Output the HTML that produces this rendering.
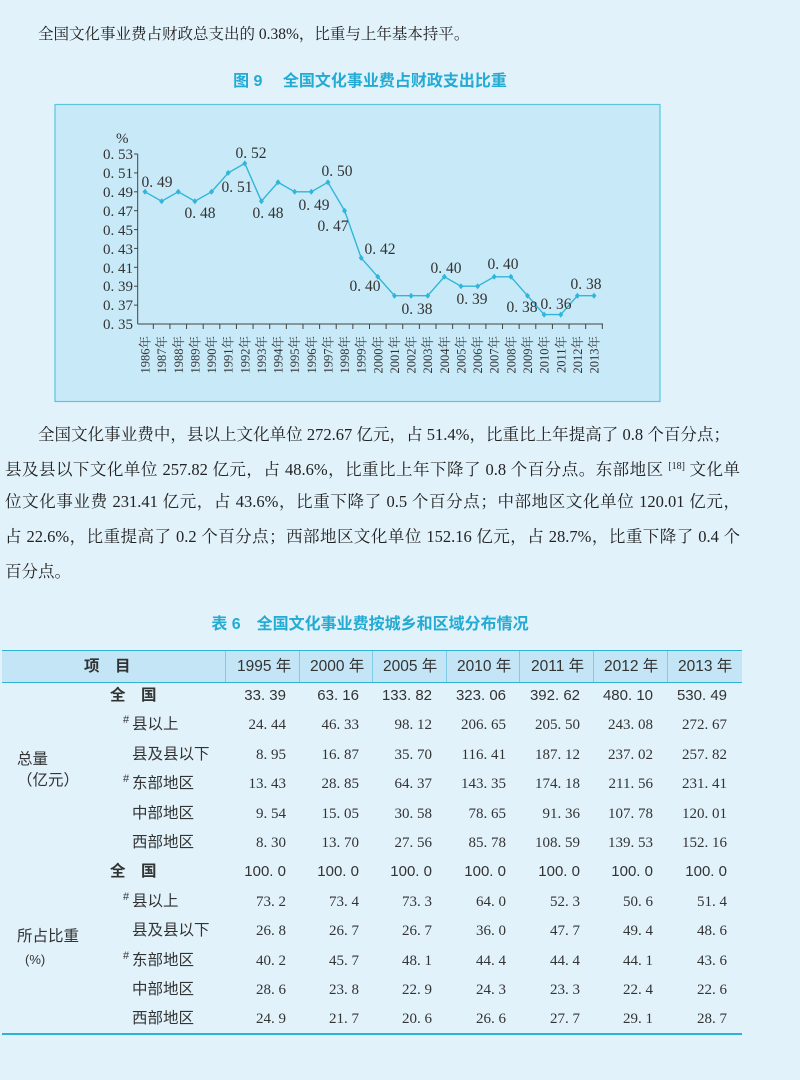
<!DOCTYPE html>
<html><head><meta charset="utf-8">
<style>
html,body{margin:0;padding:0}
body{width:800px;height:1080px;background:#e1f2fb;position:relative;overflow:hidden;font-family:"Liberation Serif","Noto Serif CJK SC",serif;color:#222}
.a{position:absolute;white-space:nowrap}
.p{position:absolute;left:5px;width:735px;font-size:16.5px;text-align:justify;text-align-last:justify;line-height:20px;height:20px;white-space:nowrap}
.p sup{font-size:10px;line-height:0;vertical-align:6px}
.ttl{position:absolute;left:0;width:740px;text-align:center;color:#23abd3;font-weight:bold;font-size:16px;font-family:"Liberation Sans","Noto Sans CJK SC",sans-serif}
.tl{position:absolute;font-family:"Liberation Sans","Noto Sans CJK SC",sans-serif;font-size:15.5px;line-height:20px;height:20px;color:#333;white-space:nowrap}
.n{position:absolute;font-size:15px;line-height:20px;height:20px;text-align:right;width:70px;color:#333}
</style></head><body>
<div class="a" style="left:38px;top:22px;font-size:15.5px">全国文化事业费占财政总支出的 0.38%，比重与上年基本持平。</div>
<div class="ttl" style="top:67px">图 9　 全国文化事业费占财政支出比重</div>
<svg class="a" style="left:0;top:0" width="800" height="410">
<rect x="55" y="104.5" width="605" height="297" fill="#c8e9f8" stroke="#5cc6df" stroke-width="1.2"/>
<g font-family="Liberation Serif, serif" font-size="15" fill="#333">
<text x="116" y="143">%</text>
<g text-anchor="end">
<text x="133" y="159">0. 53</text><text x="133" y="178">0. 51</text><text x="133" y="197">0. 49</text><text x="133" y="216">0. 47</text><text x="133" y="235">0. 45</text><text x="133" y="254">0. 43</text><text x="133" y="273">0. 41</text><text x="133" y="291">0. 39</text><text x="133" y="310">0. 37</text><text x="133" y="329">0. 35</text>
</g></g>
<g stroke="#444" stroke-width="1">
<line x1="137.7" y1="154" x2="137.7" y2="324"/><line x1="137.7" y1="324" x2="603" y2="324"/>
<line x1="134" y1="154" x2="137.7" y2="154"/><line x1="134" y1="172.9" x2="137.7" y2="172.9"/><line x1="134" y1="191.8" x2="137.7" y2="191.8"/><line x1="134" y1="210.7" x2="137.7" y2="210.7"/><line x1="134" y1="229.6" x2="137.7" y2="229.6"/><line x1="134" y1="248.4" x2="137.7" y2="248.4"/><line x1="134" y1="267.3" x2="137.7" y2="267.3"/><line x1="134" y1="286.2" x2="137.7" y2="286.2"/><line x1="134" y1="305.1" x2="137.7" y2="305.1"/>
</g>
<g id="xt" stroke="#444"></g>
<polyline fill="none" stroke="#2fb6d8" stroke-width="1.4" points="145,191.8 161.6,201.2 178.3,191.8 194.9,201.2 211.5,191.8 228.2,172.9 244.8,163.4 261.4,201.2 278,182.3 294.7,191.8 311.3,191.8 327.9,182.3 344.6,210.7 361.2,257.9 377.8,276.8 394.5,295.7 411.1,295.7 427.7,295.7 444.3,276.8 461,286.2 477.6,286.2 494.2,276.8 510.9,276.8 527.5,295.7 544.1,314.6 560.8,314.6 577.4,295.7 594,295.7"/>
<g fill="#2fb6d8" id="mk"></g>
<g font-family="Liberation Serif, serif" font-size="15.5" fill="#333" text-anchor="middle">
<text x="157" y="187">0. 49</text><text x="237" y="192">0. 51</text><text x="251" y="158">0. 52</text><text x="200" y="218">0. 48</text><text x="268" y="218">0. 48</text><text x="314" y="210">0. 49</text><text x="337" y="176">0. 50</text><text x="333" y="231">0. 47</text><text x="380" y="254">0. 42</text><text x="365" y="291">0. 40</text><text x="417" y="314">0. 38</text><text x="446" y="273">0. 40</text><text x="472" y="304">0. 39</text><text x="503" y="269">0. 40</text><text x="522" y="312">0. 38</text><text x="556" y="309">0. 36</text><text x="586" y="289">0. 38</text>
</g>
<g id="xl" font-family="Liberation Serif, Noto Serif CJK SC, serif" font-size="12.5" fill="#333" text-anchor="end"></g>
</svg>
<script>
(function(){var ns="http://www.w3.org/2000/svg";var xt=document.getElementById("xt"),mk=document.getElementById("mk"),xl=document.getElementById("xl");
var ys=[191.8,201.2,191.8,201.2,191.8,172.9,163.4,201.2,182.3,191.8,191.8,182.3,210.7,257.9,276.8,295.7,295.7,295.7,276.8,286.2,286.2,276.8,276.8,295.7,314.6,314.6,295.7,295.7];
for(var i=0;i<28;i++){var x=145+i*16.63;
var l=document.createElementNS(ns,"line");l.setAttribute("x1",x+8.3);l.setAttribute("x2",x+8.3);l.setAttribute("y1",324);l.setAttribute("y2",329);xt.appendChild(l);
var c=document.createElementNS(ns,"path");c.setAttribute("d","M"+x+" "+(ys[i]-3)+"L"+(x+2.5)+" "+ys[i]+"L"+x+" "+(ys[i]+3)+"L"+(x-2.5)+" "+ys[i]+"Z");mk.appendChild(c);
var t=document.createElementNS(ns,"text");t.setAttribute("transform","translate("+(x+4.5)+",336) rotate(-90)");t.textContent=(1986+i)+"年";xl.appendChild(t);}})();
</script>
<div class="p" style="left:38px;width:692px;top:425px">全国文化事业费中，县以上文化单位 272.67 亿元，占 51.4%，比重比上年提高了 0.8 个百分点；</div>
<div class="p" style="top:460px">县及县以下文化单位 257.82 亿元，占 48.6%，比重比上年下降了 0.8 个百分点。东部地区 <sup>[18]</sup> 文化单</div>
<div class="p" style="top:492px">位文化事业费 231.41 亿元，占 43.6%，比重下降了 0.5 个百分点；中部地区文化单位 120.01 亿元，</div>
<div class="p" style="top:527px">占 22.6%，比重提高了 0.2 个百分点；西部地区文化单位 152.16 亿元，占 28.7%，比重下降了 0.4 个</div>
<div class="a" style="left:5px;top:562px;font-size:16.5px;line-height:20px">百分点。</div>
<div class="ttl" style="top:610px">表 6　全国文化事业费按城乡和区域分布情况</div>
<div class="a" style="left:2px;top:650px;width:740px;height:31px;background:#c4e5f5;border-top:1.5px solid #2eb3d6;border-bottom:1.5px solid #2eb3d6"></div>
<div class="a" style="left:225px;top:651px;width:1px;height:31px;background:#7fcbe3"></div>
<div class="a" style="left:299px;top:651px;width:1px;height:31px;background:#7fcbe3"></div>
<div class="a" style="left:372px;top:651px;width:1px;height:31px;background:#7fcbe3"></div>
<div class="a" style="left:446px;top:651px;width:1px;height:31px;background:#7fcbe3"></div>
<div class="a" style="left:519px;top:651px;width:1px;height:31px;background:#7fcbe3"></div>
<div class="a" style="left:593px;top:651px;width:1px;height:31px;background:#7fcbe3"></div>
<div class="a" style="left:667px;top:651px;width:1px;height:31px;background:#7fcbe3"></div>
<div class="tl" style="left:84px;top:657px;font-weight:bold">项　目</div>
<div class="tl" style="left:237px;top:657px">1995 年</div>
<div class="tl" style="left:310px;top:657px">2000 年</div>
<div class="tl" style="left:383px;top:657px">2005 年</div>
<div class="tl" style="left:457px;top:657px">2010 年</div>
<div class="tl" style="left:531px;top:657px">2011 年</div>
<div class="tl" style="left:604px;top:657px">2012 年</div>
<div class="tl" style="left:678px;top:657px">2013 年</div>
<div class="a" style="left:2px;top:1033px;height:1.5px;background:#2eb3d6;width:740px"></div>
<div class="tl" style="left:17px;top:750px">总量</div>
<div class="tl" style="left:17px;top:771px">（亿元）</div>
<div class="tl" style="left:17px;top:927px">所占比重</div>
<div class="tl" style="left:25px;top:950px;font-size:13px">(%)</div>
<div id="rows"></div>
<script>
(function(){var labs=[["全　国",110,1],["县以上",132,0,1],["县及县以下",132,0],["东部地区",132,0,1],["中部地区",132,0],["西部地区",132,0]];
var d=[["33. 39","63. 16","133. 82","323. 06","392. 62","480. 10","530. 49"],["24. 44","46. 33","98. 12","206. 65","205. 50","243. 08","272. 67"],["8. 95","16. 87","35. 70","116. 41","187. 12","237. 02","257. 82"],["13. 43","28. 85","64. 37","143. 35","174. 18","211. 56","231. 41"],["9. 54","15. 05","30. 58","78. 65","91. 36","107. 78","120. 01"],["8. 30","13. 70","27. 56","85. 78","108. 59","139. 53","152. 16"],
["100. 0","100. 0","100. 0","100. 0","100. 0","100. 0","100. 0"],["73. 2","73. 4","73. 3","64. 0","52. 3","50. 6","51. 4"],["26. 8","26. 7","26. 7","36. 0","47. 7","49. 4","48. 6"],["40. 2","45. 7","48. 1","44. 4","44. 4","44. 1","43. 6"],["28. 6","23. 8","22. 9","24. 3","23. 3","22. 4","22. 6"],["24. 9","21. 7","20. 6","26. 6","27. 7","29. 1","28. 7"]];
var rights=[286,359,432,506,580,653,727];var h="";
for(var r=0;r<12;r++){var cy=696+r*29.4;var L=labs[r%6];
h+='<div class="tl" style="left:'+L[1]+'px;top:'+(cy-10)+'px;'+(L[2]?'font-weight:bold;':'')+'">'+L[0]+'</div>';
if(L[3])h+='<div class="tl" style="left:123px;top:'+(cy-15)+'px;font-size:11px">#</div>';
for(var c=0;c<7;c++){h+='<div class="n" style="left:'+(rights[c]-70)+'px;top:'+(cy-10)+'px;'+(r%6==0?'font-family:Liberation Sans,sans-serif;':'')+'">'+d[r][c]+'</div>';}}
document.getElementById("rows").innerHTML=h;})();
</script>
</body></html>
